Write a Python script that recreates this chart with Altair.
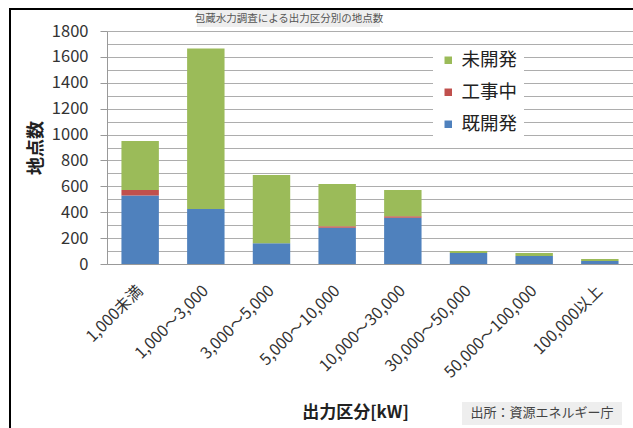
import altair as alt
import pandas as pd

categories = ["1,000未満", "1,000～3,000", "3,000～5,000", "5,000～10,000",
              "10,000～30,000", "30,000～50,000", "50,000～100,000", "100,000以上"]
developed = [530, 425, 160, 280, 358, 85, 62, 24]          # 既開発
under_construction = [42, 0, 0, 12, 10, 0, 0, 0]          # 工事中
undeveloped = [378, 1240, 528, 326, 204, 15, 23, 14]       # 未開発
series = ["未開発", "工事中", "既開発"]
colors = ["#9BBB59", "#C0504D", "#4F81BD"]
y_values = list(range(0, 1801, 100))
chart_title = "包蔵水力調査による出力区分別の地点数"
source_text = "出所：資源エネルギー庁"

rows = []
for i, c in enumerate(categories):
    for s, vals, o in [("既開発", developed, 0), ("工事中", under_construction, 1), ("未開発", undeveloped, 2)]:
        rows.append({"区分": c, "系列": s, "地点数": vals[i], "順": o})
df = pd.DataFrame(rows)

W, H = 526, 233
FONT = "Noto Sans CJK JP"
one = pd.DataFrame({"t": [0]})

bars = alt.Chart(df).mark_bar().encode(
    x=alt.X("区分:N", sort=categories,
            scale=alt.Scale(paddingInner=0.43, paddingOuter=0.22),
            axis=alt.Axis(title="出力区分[kW]", labelAngle=-45, labelAlign="right",
                          labelBaseline="middle", labelPadding=24, labelFontSize=16,
                          labelColor="#333333", labelFont=FONT, ticks=False,
                          domainColor="#999999", titleFont=FONT, titleFontSize=17,
                          titleFontWeight="bold", titleColor="#222222",
                          titleX=248, titleY=148, titleBaseline="middle", grid=False,
                          labelLimit=300)),
    y=alt.Y("地点数:Q", stack="zero", scale=alt.Scale(domain=[0, 1800], nice=False),
            axis=alt.Axis(values=y_values, format="d",
                          labelExpr="datum.value % 200 === 0 ? format(datum.value, 'd') : ''",
                          tickOpacity={"condition": {"test": "datum.value % 200 === 0", "value": 1}, "value": 0},
                          tickSize=7, tickColor="#999999", labelPadding=12,
                          labelFontSize=16.5, labelColor="#333333", labelFont=FONT,
                          domainColor="#999999", gridColor="#adadad", gridWidth=1,
                          title="地点数", titleFont=FONT, titleFontSize=18,
                          titleFontWeight="bold", titleColor="#222222", titlePadding=6)),
    color=alt.Color("系列:N", scale=alt.Scale(domain=series, range=colors),
                    legend=alt.Legend(title=None, orient="none", legendX=326, legendY=14,
                                      fillColor="white", padding=6, symbolType="square",
                                      symbolSize=56, symbolStrokeWidth=0, labelFontSize=18.5,
                                      labelFont=FONT, labelColor="#222222", rowPadding=13,
                                      labelOffset=4)),
    order=alt.Order("順:Q"),
)

border = alt.Chart(one).mark_rect(fill=None, stroke="black", strokeWidth=2).encode(
    x=alt.value(-97), x2=alt.value(W + 20), y=alt.value(-22), y2=alt.value(H + 200))

title_bg = alt.Chart(one).mark_rect(color="#eeeeee").encode(
    x=alt.value(90), x2=alt.value(273), y=alt.value(-21), y2=alt.value(-4))
title_txt = alt.Chart(pd.DataFrame({"t": [chart_title]})).mark_text(
    font=FONT, fontSize=10.5, color="#555555").encode(
    text="t:N", x=alt.value(182), y=alt.value(-12))

src_bg = alt.Chart(one).mark_rect(color="#eeeeee").encode(
    x=alt.value(355), x2=alt.value(515), y=alt.value(371), y2=alt.value(394))
src_txt = alt.Chart(pd.DataFrame({"t": [source_text]})).mark_text(
    font=FONT, fontSize=13, color="#444444").encode(
    text="t:N", x=alt.value(435), y=alt.value(382))

chart = alt.layer(border, title_bg, title_txt, src_bg, src_txt, bars).properties(
    width=W, height=H,
    autosize=alt.AutoSizeParams(type="none"),
    padding={"left": 107, "top": 31, "right": 0, "bottom": 164},
    background="white",
).configure_view(stroke=None)

chart.save("out.html", embed_options={"renderer": "svg", "actions": False})
